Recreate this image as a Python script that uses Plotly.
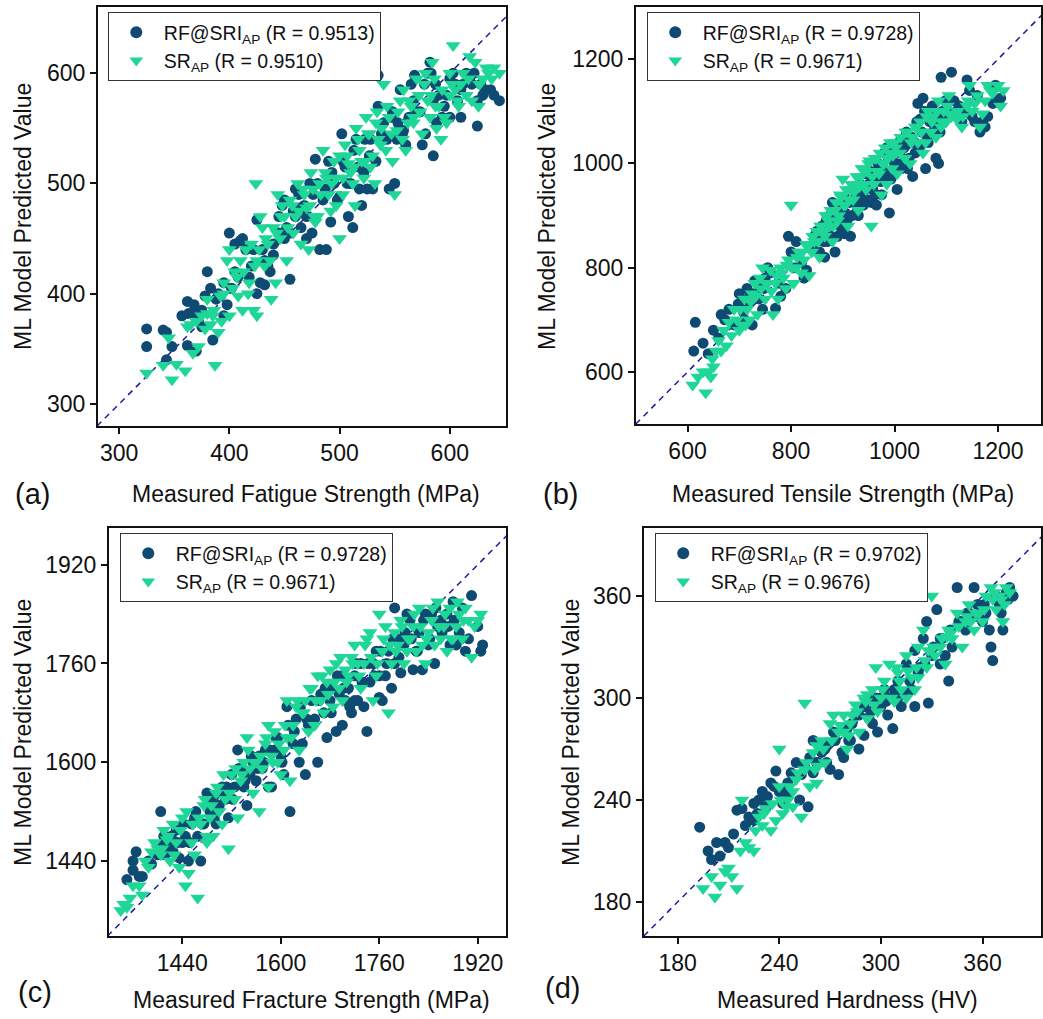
import plotly.graph_objects as go

W, H = 1043, 1019
FONT = "Liberation Sans, Arial, sans-serif"
NAVY = "#0e4a72"
GREEN = "#1ed697"
DIAG = "#1a1aa0"

# ---------------- data ----------------
# (a) Fatigue strength
a_rf_x = [325,325,340,343,348,343,362,363,367,362,370,375,380,385,372,390,378,400,405,410,395,398,415,420,425,425,428,430,435,440,445,448,450,455,460,465,470,475,478,482,485,490,492,495,500,502,505,508,510,512,515,518,520,522,525,528,530,535,535,540,545,548,550,552,555,558,560,565,568,570,575,578,580,582,585,585,588,590,595,600,605,610,610,615,620,625,628,632,637,640,645,625,600,470,488,465,455,440,432,422,412,405,395,388,375,
          445,452,458,463,468,473,480,487,493,498,503,507,513,517,523,527,533,538,543,547,553,557,563,567,573,577,583,587,593,597,603,607,612,618,622,630,402,408,418,432,437,450,460,476,383,368,357]
a_rf_y = [368,352,367,365,352,340,393,382,383,353,348,385,420,358,375,400,398,455,445,448,410,390,440,425,467,400,410,440,425,435,455,480,485,413,495,460,470,455,522,440,485,520,465,500,488,545,515,470,500,460,540,495,480,510,495,540,495,598,570,555,495,565,500,540,585,548,535,590,598,565,535,545,600,610,525,575,555,580,570,560,590,585,560,600,590,552,590,585,585,580,575,575,595,450,440,478,455,445,408,440,450,420,380,395,370,
          470,460,475,490,480,500,500,495,510,485,520,500,530,515,540,525,520,545,540,560,555,545,560,575,565,590,600,590,560,580,600,575,590,595,600,580,405,415,415,430,420,450,470,490,405,390,380]
a_sr_x = [325,340,345,348,352,360,362,365,367,370,372,378,380,383,385,387,390,392,393,395,398,400,400,405,408,410,412,415,418,420,422,424,425,425,428,430,432,435,438,440,442,444,446,448,450,452,455,458,460,462,465,468,470,472,474,476,478,480,482,485,488,490,492,495,497,500,500,503,505,508,510,512,514,515,518,520,522,524,526,528,530,532,534,535,538,540,542,545,548,550,552,555,558,560,562,565,567,570,572,575,578,580,582,584,586,588,590,592,595,600,603,605,608,612,615,618,620,623,626,630,635,640,645,610,600,
          403,407,413,417,423,427,433,437,443,447,453,457,463,467,473,477,483,487,493,497,503,507,513,517,523,527,533,537,543,547,553,557,563,567,573,577,583,587,593,597,602,607,617,627,633,638,380,386,395,375]
a_sr_y = [328,335,360,322,336,330,370,372,346,375,352,368,382,372,380,335,365,398,375,410,430,440,380,420,398,430,385,440,410,445,385,500,380,430,470,460,425,445,395,460,410,490,450,480,470,430,485,455,470,500,445,490,478,440,510,495,465,470,500,530,505,490,475,520,505,450,525,490,535,518,510,500,480,550,530,520,505,560,545,515,525,500,565,540,550,590,530,560,520,490,548,575,585,530,555,570,560,595,580,545,600,575,560,610,595,550,570,540,560,600,625,585,570,600,580,615,575,610,570,595,600,605,600,590,580,
          405,415,420,400,425,440,450,430,455,470,460,480,475,495,480,470,490,510,500,480,505,525,515,540,520,545,555,535,570,545,565,540,575,555,565,590,580,570,585,555,590,575,595,590,605,595,395,385,400,380]

# (b) Tensile strength
b_rf_x = [615,612,630,640,650,660,665,672,680,690,700,705,710,715,720,725,730,740,745,750,755,760,770,775,780,790,795,800,805,810,815,820,825,830,840,845,850,855,860,865,870,875,880,885,890,895,900,905,910,915,920,925,930,935,940,945,950,955,960,965,970,975,980,985,990,995,1000,1005,1010,1015,1020,1025,1030,1035,1040,1045,1050,1055,1060,1065,1070,1075,1080,1085,1090,1095,1100,1110,1115,1120,1130,1140,1145,1150,1160,1165,1170,1180,1190,1200,1205,1195,1175,
          852,858,863,868,873,878,883,888,893,898,903,908,913,918,923,928,933,938,943,948,953,958,963,968,973,978,983,988,993,998,1003,1008,1013,1018,1023,1028,1033,1038,1043,1048,1053,1058,1063,1068,1073,1078,1083,1088,1093,1098,1105,1125,1135,1155,698,708,718,728,738,748]
b_rf_y = [695,640,655,635,680,665,710,700,720,690,750,730,700,760,745,690,775,760,720,780,800,790,722,770,745,760,860,830,800,850,820,810,780,795,840,860,870,830,880,820,850,900,925,830,860,880,910,865,900,860,955,930,900,950,920,980,960,925,970,920,990,940,1020,1030,905,980,1000,950,1020,1000,1050,990,1040,975,1020,1115,1085,1125,990,1040,1100,1060,1010,1000,1165,1080,1105,1175,1120,1100,1080,1160,1140,1090,1130,1060,1080,1090,1115,1120,1125,1150,1070,
          865,875,850,890,880,860,905,885,920,870,935,890,925,900,945,915,960,935,950,930,985,950,940,1000,965,990,975,1010,970,1030,1000,1040,990,1030,1060,1010,1050,1040,1080,1030,1060,1100,1050,1080,1110,1070,1090,1060,1100,1120,1090,1110,1100,1080,730,715,735,750,740,760]
b_sr_x = [610,620,630,635,640,645,648,650,655,660,665,670,675,680,685,690,695,700,705,710,715,720,725,730,735,740,745,750,755,760,765,770,775,780,785,790,795,800,805,810,815,820,825,830,835,840,845,850,855,860,865,870,875,880,885,890,895,900,905,910,915,920,925,930,935,940,945,950,955,960,965,970,975,980,985,990,995,1000,1005,1010,1020,1025,1030,1035,1040,1045,1050,1055,1060,1065,1070,1075,1080,1085,1090,1095,1100,1105,1110,1120,1130,1140,1145,1150,1160,1165,1170,1180,1185,1190,1200,1205,1210,1175,1155,
          702,712,722,732,742,752,762,772,782,792,802,812,822,832,842,852,857,862,867,872,877,882,887,892,897,902,907,912,917,922,927,932,937,942,947,952,957,962,967,972,977,982,987,992,997,1002,1012,1022,1032,1042,1052,1062,1072,1082,1092,1102,1112,1122,1132,1142]
b_sr_y = [575,590,600,560,600,590,625,610,640,660,640,680,650,695,670,720,700,680,690,740,720,700,750,770,710,780,800,740,770,795,710,770,740,800,780,760,815,920,770,800,830,790,815,845,785,830,850,870,820,880,860,900,880,850,910,890,940,970,920,880,950,930,960,910,975,990,950,1000,880,960,1010,980,940,1000,960,1020,990,1040,980,1020,1010,1060,1000,1050,1070,1040,1080,1020,1040,1100,1060,1090,1050,1120,1070,1100,1080,1130,1090,1085,1070,1110,1150,1100,1130,1070,1095,1150,1140,1135,1150,1110,1140,1120,1115,
          720,690,735,745,760,770,755,785,790,805,800,820,830,840,860,850,880,870,900,890,910,880,925,900,935,920,950,930,960,945,975,955,990,960,985,1005,975,1010,985,1020,1000,1030,1010,1040,1015,1030,1050,1060,1040,1070,1060,1090,1080,1100,1080,1110,1095,1100,1090,1120]

# (c) Fracture strength
c_rf_x = [1350,1360,1360,1365,1370,1375,1385,1390,1400,1405,1410,1415,1420,1425,1430,1435,1440,1445,1450,1455,1460,1465,1470,1475,1480,1485,1490,1495,1500,1505,1510,1515,1520,1525,1530,1535,1540,1545,1550,1555,1560,1565,1570,1575,1580,1585,1590,1595,1600,1605,1610,1615,1620,1625,1630,1635,1640,1645,1650,1655,1660,1665,1670,1675,1680,1685,1690,1695,1700,1705,1710,1715,1720,1725,1730,1735,1740,1745,1750,1755,1760,1765,1770,1775,1780,1785,1790,1795,1800,1805,1810,1815,1820,1825,1830,1835,1840,1845,1850,1855,1860,1870,1875,1880,1885,1890,1895,1900,1905,1910,1920,1925,1928,1770,1760,1785,1720,1700,
          1402,1412,1422,1432,1442,1452,1462,1472,1482,1492,1502,1512,1522,1532,1542,1552,1562,1572,1582,1592,1602,1612,1622,1632,1642,1652,1662,1672,1682,1692,1702,1712,1722,1732,1742,1752,1762,1772,1782,1792,1802,1812,1822,1832,1842,1852,1862,1872,1882,1892]
c_rf_y = [1410,1440,1425,1455,1415,1415,1440,1435,1450,1520,1480,1470,1460,1455,1490,1445,1470,1480,1440,1500,1510,1480,1440,1500,1550,1520,1540,1500,1530,1560,1540,1510,1580,1560,1620,1590,1560,1530,1580,1600,1570,1610,1590,1620,1560,1560,1620,1640,1610,1580,1690,1520,1630,1670,1600,1630,1580,1660,1700,1670,1600,1710,1680,1640,1700,1720,1650,1710,1740,1700,1720,1680,1740,1700,1760,1690,1650,1730,1760,1780,1740,1700,1740,1780,1720,1760,1800,1745,1790,1840,1830,1750,1780,1810,1750,1840,1790,1840,1760,1820,1830,1840,1790,1860,1790,1810,1850,1780,1800,1870,1820,1780,1790,1890,1705,1850,1700,1660,
          1465,1450,1480,1470,1500,1470,1520,1500,1530,1510,1550,1560,1540,1590,1570,1610,1590,1600,1620,1640,1600,1660,1650,1690,1670,1660,1700,1720,1680,1740,1720,1690,1760,1730,1760,1740,1780,1760,1800,1770,1810,1800,1780,1830,1800,1850,1810,1820,1830,1800]
c_sr_x = [1340,1345,1350,1355,1360,1370,1375,1380,1385,1390,1395,1400,1405,1410,1415,1420,1425,1430,1435,1440,1445,1450,1455,1460,1465,1470,1475,1480,1485,1490,1495,1500,1505,1510,1515,1520,1525,1530,1535,1540,1545,1550,1555,1560,1565,1570,1575,1580,1585,1590,1595,1600,1605,1610,1615,1620,1625,1630,1635,1640,1645,1650,1655,1660,1665,1670,1675,1680,1685,1690,1695,1700,1705,1710,1715,1720,1725,1730,1735,1740,1745,1750,1755,1760,1765,1770,1775,1780,1785,1790,1795,1800,1805,1810,1815,1820,1825,1830,1835,1840,1845,1850,1855,1860,1865,1870,1875,1880,1885,1890,1895,1900,1905,1910,1915,1920,1925,1480,1610,1580,
          1407,1417,1427,1437,1447,1457,1467,1477,1487,1497,1507,1517,1527,1537,1547,1557,1567,1577,1587,1597,1607,1617,1627,1637,1647,1657,1667,1677,1687,1697,1707,1717,1727,1737,1747,1757,1767,1777,1787,1797,1807,1817,1827,1837,1847,1857,1867,1877,1887,1897]
c_sr_y = [1360,1370,1365,1380,1400,1400,1385,1440,1430,1455,1470,1460,1450,1490,1475,1440,1500,1470,1430,1510,1400,1420,1470,1450,1380,1500,1530,1470,1510,1480,1550,1520,1500,1540,1460,1580,1540,1510,1570,1600,1640,1590,1550,1600,1520,1590,1630,1560,1610,1650,1600,1580,1620,1640,1570,1660,1690,1620,1680,1700,1650,1720,1660,1740,1700,1680,1730,1750,1690,1760,1720,1700,1750,1740,1770,1790,1760,1720,1760,1800,1810,1700,1740,1840,1780,1820,1680,1760,1810,1790,1830,1760,1780,1800,1820,1780,1850,1790,1760,1810,1830,1790,1860,1800,1820,1780,1850,1800,1820,1840,1800,1850,1830,1770,1820,1830,1840,1480,1700,1660,
          1460,1480,1450,1490,1520,1500,1510,1540,1530,1560,1580,1550,1590,1580,1620,1600,1610,1640,1600,1630,1660,1640,1700,1680,1720,1700,1740,1710,1730,1770,1730,1760,1740,1790,1770,1760,1800,1790,1780,1820,1800,1840,1820,1800,1850,1820,1840,1800,1860,1830]

# (d) Hardness
d_rf_x = [193,198,200,203,205,208,210,213,215,218,220,222,225,228,230,232,235,238,240,242,245,248,250,252,255,257,260,262,265,268,270,272,275,278,280,282,285,287,290,292,295,298,300,302,305,307,310,312,315,318,320,322,325,327,328,330,333,335,338,340,342,345,347,350,352,355,357,360,362,365,366,368,370,372,374,376,378,300,290,310,320,335,260,245,225,
          227,233,237,243,247,253,258,263,267,273,277,283,287,293,297,303,308,313,317,323,326,331,336,341,346,351,356,361,364,371,375,268,281,294,304]
d_rf_y = [224,210,205,215,207,215,212,220,234,235,225,230,238,240,245,236,250,257,245,238,250,255,262,240,260,236,275,262,268,272,258,280,255,265,282,275,290,270,278,300,285,280,295,305,300,282,310,295,320,305,295,315,335,345,297,325,352,320,325,310,330,365,345,340,350,365,355,345,350,330,322,360,355,340,362,365,360,300,295,300,328,335,256,242,228,
          232,242,248,245,256,255,265,262,270,275,268,285,290,288,300,298,305,302,310,318,320,330,335,340,345,350,348,355,340,350,358,262,275,292,290]
d_sr_x = [195,200,202,205,208,210,212,215,217,220,222,225,228,230,232,235,238,240,242,245,248,250,253,255,258,260,262,265,267,270,272,275,278,280,282,285,287,290,292,295,298,300,302,305,308,310,312,315,318,320,322,325,327,330,332,335,338,340,342,345,348,350,352,355,358,360,362,365,368,370,372,374,376,255,240,263,218,248,283,297,315,328,
          226,231,236,241,246,251,256,261,266,271,276,281,286,291,296,301,306,311,316,321,326,331,336,341,346,351,356,361,366,371,244,262,278,292,309,322,339,353,367,373]
d_sr_y = [188,195,183,190,198,200,195,188,210,215,212,210,230,225,235,222,228,248,232,240,245,252,230,258,248,268,250,275,262,285,290,280,290,270,285,296,280,300,288,305,292,300,310,320,298,315,305,325,312,305,330,340,318,360,325,330,320,340,335,350,330,345,355,340,350,345,360,365,352,360,345,365,362,297,270,260,240,236,290,318,300,328,
          222,232,238,240,248,256,262,258,270,275,284,278,292,298,296,305,300,310,316,318,322,330,335,338,342,348,350,352,358,358,236,272,280,302,318,312,336,345,362,355]

legend_a = ["RF@SRI<sub>AP</sub> (R = 0.9513)", "SR<sub>AP</sub> (R = 0.9510)"]
legend_b = ["RF@SRI<sub>AP</sub> (R = 0.9728)", "SR<sub>AP</sub> (R = 0.9671)"]
legend_c = ["RF@SRI<sub>AP</sub> (R = 0.9728)", "SR<sub>AP</sub> (R = 0.9671)"]
legend_d = ["RF@SRI<sub>AP</sub> (R = 0.9702)", "SR<sub>AP</sub> (R = 0.9676)"]

xtitles = ["Measured Fatigue Strength (MPa)", "Measured Tensile Strength (MPa)",
           "Measured Fracture Strength (MPa)", "Measured Hardness (HV)"]
ytitle = "ML Model Predicted Value"
panel_labels = ["(a)", "(b)", "(c)", "(d)"]

ticks_a = [300, 400, 500, 600]
ticks_b = [600, 800, 1000, 1200]
ticks_c = [1440, 1600, 1760, 1920]
ticks_d = [180, 240, 300, 360]

# ---------------- layout geometry (pixels) ----------------
panels = [
    dict(px=(98, 507), py=(7, 426), xr=[280.7, 651], yr=[280, 660], ticks=ticks_a,
         xs=a_rf_x, ys=a_rf_y, xt=a_sr_x, yt=a_sr_y, leg=legend_a,
         legpos=(108, 12), ytpos=(23, 216), xtpos=(307, 494), plpos=(33, 494)),
    dict(px=(637, 1043), py=(7, 424), xr=[500, 1283], yr=[500, 1300], ticks=ticks_b,
         xs=b_rf_x, ys=b_rf_y, xt=b_sr_x, yt=b_sr_y, leg=legend_b,
         legpos=(648, 12), ytpos=(548, 216), xtpos=(845, 494), plpos=(562, 494)),
    dict(px=(109, 507), py=(528, 936), xr=[1320.6, 1966], yr=[1318.5, 1979.5], ticks=ticks_c,
         xs=c_rf_x, ys=c_rf_y, xt=c_sr_x, yt=c_sr_y, leg=legend_c,
         legpos=(120, 533), ytpos=(23, 732), xtpos=(312, 1000), plpos=(35, 992)),
    dict(px=(645, 1043), py=(528, 936), xr=[160, 394.5], yr=[160, 400], ticks=ticks_d,
         xs=d_rf_x, ys=d_rf_y, xt=d_sr_x, yt=d_sr_y, leg=legend_d,
         legpos=(656, 533), ytpos=(572, 732), xtpos=(849, 1000), plpos=(564, 988)),
]

fig = go.Figure()
layout = dict(width=W, height=H, margin=dict(l=0, r=0, t=0, b=0),
              paper_bgcolor="white", plot_bgcolor="white", font=dict(family=FONT, color="#111"),
              showlegend=True)
annotations = []

for i, p in enumerate(panels):
    n = "" if i == 0 else str(i + 1)
    xa, ya = "x" + n, "y" + n
    legname = "legend" + n
    lo = min(p["xr"][0], p["yr"][0])
    hi = max(p["xr"][1], p["yr"][1])
    fig.add_trace(go.Scatter(x=[lo, hi], y=[lo, hi], mode="lines", xaxis=xa, yaxis=ya,
                             line=dict(color=DIAG, width=1.5, dash="6px,5px"),
                             showlegend=False, hoverinfo="skip"))
    fig.add_trace(go.Scatter(x=p["xs"], y=p["ys"], mode="markers", xaxis=xa, yaxis=ya,
                             name=p["leg"][0], legend=legname,
                             marker=dict(symbol="circle", size=11, color=NAVY)))
    fig.add_trace(go.Scatter(x=p["xt"], y=p["yt"], mode="markers", xaxis=xa, yaxis=ya,
                             name=p["leg"][1], legend=legname,
                             marker=dict(symbol="triangle-down", size=13, color=GREEN)))
    axcommon = dict(showline=True, linecolor="#111", linewidth=1.6, mirror=True,
                    ticks="outside", ticklen=6, tickwidth=1.5, tickcolor="#111",
                    showgrid=False, zeroline=False, tickfont=dict(size=23, family=FONT, color="#111"),
                    tickvals=p["ticks"])
    layout["xaxis" + n] = dict(axcommon, domain=[p["px"][0] / W, p["px"][1] / W],
                               range=p["xr"], anchor=ya)
    layout["yaxis" + n] = dict(axcommon, domain=[1 - p["py"][1] / H, 1 - p["py"][0] / H],
                               range=p["yr"], anchor=xa)
    layout[legname] = dict(x=p["legpos"][0] / W, y=1 - p["legpos"][1] / H,
                           xanchor="left", yanchor="top", bgcolor="white",
                           bordercolor="#333", borderwidth=1,
                           font=dict(size=19.5, family=FONT, color="#111"),
                           tracegroupgap=0, itemsizing="constant", itemwidth=45)
    annotations.append(dict(text=ytitle, x=p["ytpos"][0] / W, y=1 - p["ytpos"][1] / H,
                            xref="paper", yref="paper", showarrow=False, textangle=-90,
                            xanchor="center", yanchor="middle",
                            font=dict(size=23, family=FONT, color="#111")))
    annotations.append(dict(text=xtitles[i], x=p["xtpos"][0] / W, y=1 - p["xtpos"][1] / H,
                            xref="paper", yref="paper", showarrow=False,
                            xanchor="center", yanchor="middle",
                            font=dict(size=23, family=FONT, color="#111")))
    annotations.append(dict(text=panel_labels[i], x=p["plpos"][0] / W, y=1 - p["plpos"][1] / H,
                            xref="paper", yref="paper", showarrow=False,
                            xanchor="center", yanchor="middle",
                            font=dict(size=29, family=FONT, color="#111")))

layout["annotations"] = annotations
fig.update_layout(**layout)
fig.write_html("out.html", config={"displayModeBar": False},
               post_script="document.body.style.margin='0';document.body.style.overflow='hidden';")
